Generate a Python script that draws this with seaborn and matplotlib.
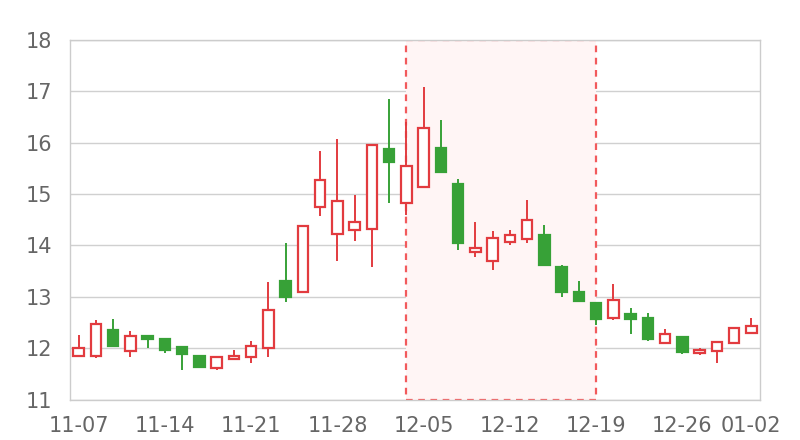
import matplotlib
matplotlib.use("Agg")
import matplotlib.pyplot as plt
import seaborn as sns
import pandas as pd
from matplotlib.patches import Rectangle

dates = ["11-07", "11-08", "11-09", "11-10", "11-11",
         "11-14", "11-15", "11-16", "11-17", "11-18",
         "11-21", "11-22", "11-23", "11-24", "11-25",
         "11-28", "11-29", "11-30", "12-01", "12-02",
         "12-05", "12-06", "12-07", "12-08", "12-09",
         "12-12", "12-13", "12-14", "12-15", "12-16",
         "12-19", "12-20", "12-21", "12-22", "12-23",
         "12-26", "12-27", "12-28", "12-29", "01-02"]
opens = [11.85, 11.84, 12.35, 11.95, 12.24, 12.17, 12.02, 11.85, 11.62, 11.79,
         11.83, 12.00, 13.30, 13.09, 14.74, 14.23, 14.30, 14.33, 15.87, 14.83,
         15.14, 15.89, 15.20, 13.87, 13.70, 14.07, 14.12, 14.20, 13.58, 13.09,
         12.87, 12.58, 12.67, 12.58, 12.10, 12.21, 11.91, 11.94, 12.10, 12.30]
closes = [12.00, 12.47, 12.05, 12.24, 12.17, 11.97, 11.89, 11.64, 11.83, 11.84,
          12.04, 12.74, 13.00, 14.37, 15.27, 14.87, 14.46, 15.96, 15.63, 15.55,
          16.29, 15.44, 14.04, 13.95, 14.15, 14.20, 14.50, 13.61, 13.10, 12.92,
          12.56, 12.94, 12.56, 12.17, 12.28, 11.92, 11.97, 12.12, 12.39, 12.44]
lows = [11.82, 11.80, 12.04, 11.82, 12.00, 11.91, 11.58, 11.64, 11.58, 11.76,
        11.71, 11.82, 12.89, 13.09, 14.58, 13.70, 14.09, 13.59, 14.82, 14.59,
        15.14, 15.44, 13.91, 13.78, 13.52, 14.01, 14.05, 13.61, 13.00, 12.91,
        12.45, 12.54, 12.28, 12.13, 12.10, 11.89, 11.86, 11.71, 12.10, 12.27]
highs = [12.26, 12.54, 12.57, 12.34, 12.26, 12.17, 12.02, 11.87, 11.83, 11.97,
         12.14, 13.28, 14.04, 14.37, 15.84, 16.07, 14.98, 15.96, 16.85, 16.41,
         17.08, 16.44, 15.29, 14.45, 14.28, 14.30, 14.89, 14.40, 13.62, 13.31,
         12.89, 13.25, 12.78, 12.69, 12.37, 12.23, 12.01, 12.12, 12.39, 12.59]
tick_labels = ["11-07", "11-14", "11-21", "11-28", "12-05", "12-12", "12-19", "12-26", "01-02"]
highlight_start = "12-02"
highlight_end = "12-19"

RED = "#e23b3f"
GREEN = "#37a137"

sns.set_theme(style="white")
plt.rcParams["font.family"] = ["DejaVu Sans"]

df = pd.DataFrame({"date": dates, "open": opens, "close": closes, "low": lows, "high": highs})
df["x"] = range(len(df))
df["up"] = df["close"] >= df["open"]
df["bottom"] = df[["open", "close"]].min(axis=1)
df["body"] = (df["close"] - df["open"]).abs().clip(lower=0.02)

fig = plt.figure(figsize=(8, 4.4), dpi=100)
ax = fig.add_axes([0.0875, 0.092, 0.8625, 0.817])

# highlighted area
x0 = dates.index(highlight_start)
x1 = dates.index(highlight_end)
rect = Rectangle((x0, 11), x1 - x0, 7, facecolor="#fff5f5", edgecolor="#f25a5c",
                 linestyle=(0, (3, 2.5)), linewidth=1.6, zorder=1)
ax.add_patch(rect)

for up, color in [(True, RED), (False, GREEN)]:
    sub = df[df["up"] == up]
    ax.vlines(sub["x"], sub["low"], sub["high"], color=color, linewidth=1.4, zorder=2)
    ax.bar(sub["x"], sub["body"], bottom=sub["bottom"], width=0.6,
           facecolor="white" if up else color, edgecolor=color,
           linewidth=1.6, zorder=3)

ax.set_xlim(-0.5, len(dates) - 0.5)
ax.set_ylim(11, 18)
ax.set_yticks(range(11, 19))
ax.set_xticks([dates.index(t) for t in tick_labels])
ax.set_xticklabels(tick_labels)
ax.grid(axis="y", color="#d0d0d0", linewidth=1)
ax.set_axisbelow(True)
for s in ax.spines.values():
    s.set_color("#cccccc")
    s.set_linewidth(1)
ax.tick_params(axis="both", length=0, labelsize=15, labelcolor="#666666")
ax.tick_params(axis="y", pad=13)
ax.tick_params(axis="x", pad=12)
ax.set_xlabel("")
ax.set_ylabel("")

fig.savefig("out.png", dpi=100)
